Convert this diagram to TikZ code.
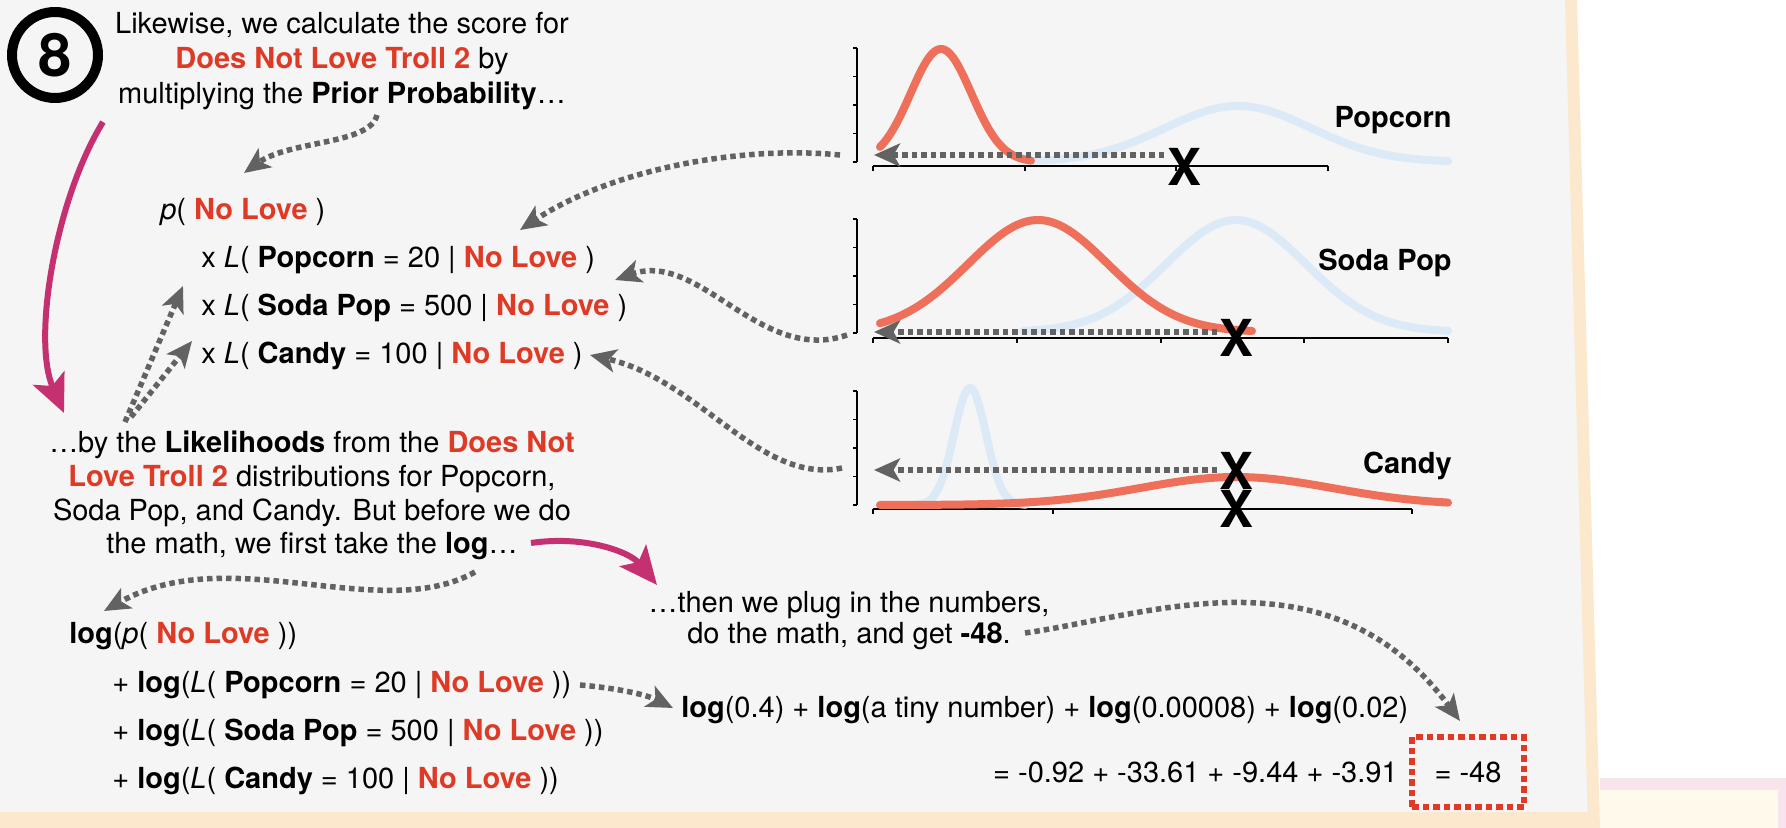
\documentclass[tikz,border=0pt]{standalone}
\usepackage{fontspec}
\setmainfont{TeX Gyre Heros}
\usetikzlibrary{arrows.meta}

\definecolor{nlred}{RGB}{222,58,38}
\definecolor{curvered}{RGB}{238,112,90}
\definecolor{curveblue}{RGB}{220,234,247}
\definecolor{dotgray}{RGB}{98,98,98}
\definecolor{swoop}{RGB}{196,48,112}
\definecolor{panel}{RGB}{245,245,245}
\definecolor{peach}{RGB}{252,232,204}
\definecolor{blush}{RGB}{248,228,236}
\definecolor{cream}{RGB}{255,250,236}

\newcommand{\nolove}{\textcolor{nlred}{\textbf{No Love}}}
\newcommand{\dnlTroll}{\textcolor{nlred}{\textbf{Does Not Love Troll 2}}}

% axes of one distribution: y-top, y-bottom, x-axis height, x-axis end, x ticks
\newcommand{\distAxes}[5]{%
    \draw[axisline] (857,#1) -- (857,#2);
    \foreach \t in {0,...,4} {
        \draw[axisline] (853,{#1+\t*(#2-#1)/4}) -- (857,{#1+\t*(#2-#1)/4});
    }
    \draw[axisline] (873,#3) -- (#4,#3);
    \foreach \t in {#5} {
        \draw[axisline] (\t,#3) -- (\t,#3+5);
    }
}
% bell curve: colour, from, to, mean, sd, base, height
\newcommand{\bellCurve}[7]{%
    \draw[#1, line width=0.16cm, line cap=round, line join=round]
        plot[domain=#2:#3, samples=90] (\x, {#6-#7*exp(-0.5*((\x-#4)/#5)*((\x-#4)/#5))});
}

\begin{document}
\begin{tikzpicture}[x=0.02cm, y=-0.02cm,
    txt/.style={font=\fontsize{16.5}{19.9}\selectfont, inner sep=0},
    distname/.style={font=\fontsize{16.5}{20}\selectfont\bfseries, inner sep=0, anchor=base east},
    xmark/.style={font=\fontsize{29}{30}\selectfont\bfseries, inner sep=0},
    axisline/.style={black, line width=0.6pt},
    dotarrow/.style={dotgray, line width=0.11cm, dash pattern=on 0.11cm off 0.08cm,
        -{Stealth[length=0.52cm, width=0.46cm, inset=0.13cm]}},
    swooparrow/.style={swoop, line width=0.12cm,
        -{Stealth[length=0.76cm, width=0.68cm, inset=0.17cm]}}]
    \useasboundingbox (0,0) rectangle (1786,828);

    % paper
    \fill[white] (0,0) rectangle (1786,828);
    \fill[panel] (0,0) -- (1571,0) -- (1594,828) -- (0,828) -- cycle;
    \fill[peach] (0,812) rectangle (1594,828);
    \draw[peach, line width=0.24cm] (1571,0) -- (1594,828);
    \fill[cream] (1600,790) rectangle (1782,828);
    \draw[blush, line width=0.24cm] (1600,784) -- (1786,784);
    \draw[blush, line width=0.16cm] (1782,790) -- (1782,828);

    % step number and text
    \node[circle, draw, line width=0.2cm, minimum size=1.72cm, inner sep=0,
        font=\fontsize{34}{36}\selectfont\bfseries] (step8) at (55,55) {8};
    \node[txt, align=center, anchor=north] (intro) at (342,12)
        {Likewise, we calculate the score for\\ \dnlTroll{} by\\
         multiplying the \textbf{Prior Probability}…};

    \node[txt, anchor=base west] (prior) at (160,219) {\textit{p}( \nolove{} )};
    \node[txt, anchor=base west] (lpop) at (201,267) {x \textit{L}( \textbf{Popcorn} = 20 | \nolove{} )};
    \node[txt, anchor=base west] (lsoda) at (201,315) {x \textit{L}( \textbf{Soda Pop} = 500 | \nolove{} )};
    \node[txt, anchor=base west] (lcandy) at (201,363) {x \textit{L}( \textbf{Candy} = 100 | \nolove{} )};

    \node[txt, align=center, anchor=north, font=\fontsize{16.5}{19.1}\selectfont] (likely) at (312,431)
        {…by the \textbf{Likelihoods} from the \textcolor{nlred}{\textbf{Does Not}}\\
         \textcolor{nlred}{\textbf{Love Troll 2}} distributions for Popcorn,\\
         Soda Pop, and Candy. But before we do\\
         the math, we first take the \textbf{log}…};

    \node[txt, anchor=base west] (logprior) at (69,643) {\textbf{log}(\textit{p}( \nolove{} ))};
    \node[txt, anchor=base west] (logpop) at (112,692) {+ \textbf{log}(\textit{L}( \textbf{Popcorn} = 20 | \nolove{} ))};
    \node[txt, anchor=base west] (logsoda) at (112,740) {+ \textbf{log}(\textit{L}( \textbf{Soda Pop} = 500 | \nolove{} ))};
    \node[txt, anchor=base west] (logcandy) at (112,788) {+ \textbf{log}(\textit{L}( \textbf{Candy} = 100 | \nolove{} ))};

    \node[txt, align=center, anchor=north, font=\fontsize{16.5}{17.6}\selectfont] (plugin) at (849,591)
        {…then we plug in the numbers,\\ do the math, and get \textbf{-48}.};
    \node[txt, anchor=base west] (plugged) at (681,717)
        {\textbf{log}(0.4) + \textbf{log}(a tiny number) + \textbf{log}(0.00008) + \textbf{log}(0.02)};
    \node[txt, anchor=base east] (sums) at (1398,782) {= -0.92 + -33.61 + -9.44 + -3.91};
    \node[txt, draw=nlred, line width=0.11cm, dash pattern=on 0.13cm off 0.08cm,
        minimum width=2.24cm, minimum height=1.4cm] (answer) at (1468,772) {= -48};

    % the three distributions
    \distAxes{48}{162}{166}{1328}{873,1025,1176,1328}
    \distAxes{219}{333}{338}{1448}{873,1017,1161,1304,1448}
    \distAxes{391}{505}{509}{1412}{873,1053,1232,1412}

    \bellCurve{curveblue}{1031}{1448}{1238}{73}{162}{56}
    \bellCurve{curvered}{880}{1031}{941}{30.4}{162}{113}
    \bellCurve{curveblue}{1023}{1448}{1236}{70}{332}{112}
    \bellCurve{curvered}{880}{1252}{1038}{70}{332}{112}
    \bellCurve{curveblue}{914}{1026}{970}{16}{505}{117}
    \bellCurve{curvered}{880}{1448}{1236}{96}{505}{28}

    \node[distname] (popname) at (1452,128) {Popcorn};
    \node[distname] (sodaname) at (1452,270) {Soda Pop};
    \node[distname] (candyname) at (1452,473) {Candy};

    \coordinate (popread) at (1164,155);
    \coordinate (popaxis) at (874,155);
    \coordinate (sodaread) at (1217,332);
    \coordinate (sodaaxis) at (874,332);
    \coordinate (candyread) at (1217,470);
    \coordinate (candyaxis) at (874,470);
    \draw[dotarrow] (popread) -- (popaxis);
    \draw[dotarrow] (sodaread) -- (sodaaxis);
    \draw[dotarrow] (candyread) -- (candyaxis);

    \node[xmark] (xpop) at (1184,167) {X};
    \node[xmark] (xsoda) at (1236,338) {X};
    \node[xmark] (xcandytop) at (1236,471) {X};
    \node[xmark] (xcandylow) at (1236,509) {X};

    % connectors
    \coordinate (introtail) at (377,115);
    \coordinate (priorhead) at (244,173);
    \draw[dotarrow] (introtail) .. controls (370,145) and (290,140) .. (priorhead);

    \coordinate (swooptop) at (103,122);
    \coordinate (swoopend) at (64,413);
    \draw[swooparrow] (swooptop) .. controls (55,200) and (32,340) .. (swoopend);

    \coordinate (liketail) at (125,422);
    \coordinate (liketailb) at (131,417);
    \coordinate (sodahead) at (183,286);
    \coordinate (candyhead) at (192,341);
    \draw[dotarrow] (liketail) -- (sodahead);
    \draw[dotarrow] (liketailb) -- (candyhead);

    \coordinate (popstart) at (840,155);
    \coordinate (pophead) at (520,230);
    \draw[dotarrow] (popstart) .. controls (740,145) and (610,170) .. (pophead);
    \coordinate (sodastart) at (847,335);
    \coordinate (sodahead2) at (615,280);
    \draw[dotarrow] (sodastart) .. controls (760,365) and (700,250) .. (sodahead2);
    \coordinate (candystart) at (842,468);
    \coordinate (candyhead2) at (590,355);
    \draw[dotarrow] (candystart) .. controls (760,485) and (700,380) .. (candyhead2);

    \coordinate (logtail) at (475,572);
    \coordinate (loghead) at (104,611);
    \draw[dotarrow] (logtail) .. controls (380,625) and (230,540) .. (loghead);

    \coordinate (swoopstart) at (531,543);
    \coordinate (swoophead) at (657,585);
    \draw[swooparrow] (swoopstart) .. controls (585,535) and (630,552) .. (swoophead);

    \coordinate (poptail) at (580,685);
    \coordinate (pluggedhead) at (673,708);
    \draw[dotarrow] (poptail) .. controls (615,688) and (645,694) .. (pluggedhead);

    \coordinate (resulttail) at (1025,633);
    \coordinate (answerhead) at (1460,721);
    \draw[dotarrow] (resulttail) .. controls (1150,615) and (1330,545) .. (answerhead);
\end{tikzpicture}
\end{document}
